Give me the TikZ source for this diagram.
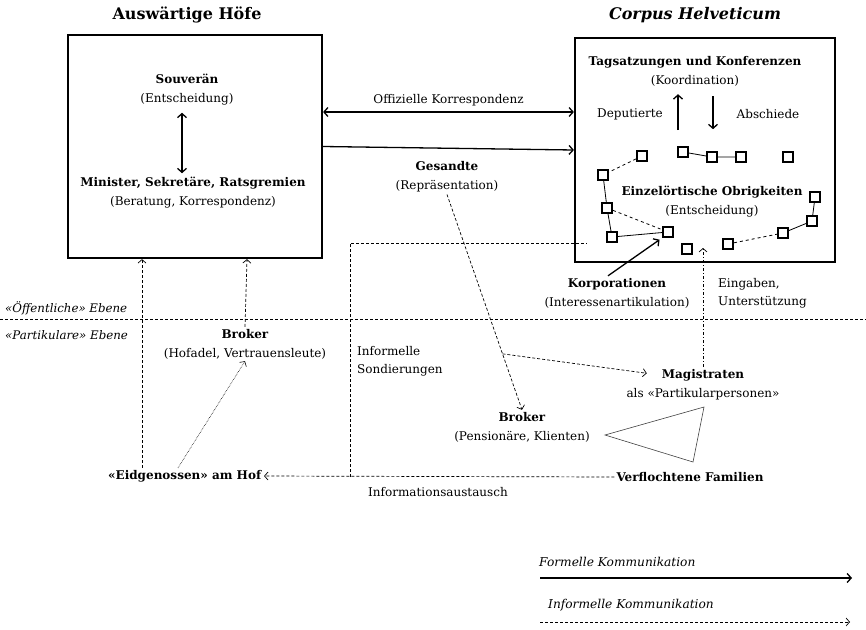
\documentclass[tikz,border=0pt]{standalone}
\usepackage{fontspec}
\setmainfont{DejaVu Serif}
\usetikzlibrary{arrows.meta}
\tikzset{
  court/.style={draw, rectangle, line width=2.2pt, minimum width=254pt, minimum height=223pt},
  courttitle/.style={font=\fontsize{16}{18}\selectfont\bfseries},
  actor/.style={align=center, font=\fontsize{12}{19}\selectfont, inner sep=2pt},
  note/.style={align=left, anchor=west, font=\fontsize{12}{18}\selectfont, inner sep=2pt},
  level/.style={anchor=west, font=\fontsize{11.8}{13}\selectfont\itshape, inner sep=2pt},
  ort/.style={draw, rectangle, line width=2pt, minimum size=10pt, inner sep=0pt},
  link/.style={line width=.8pt},
  barb/.tip={Straight Barb[length=4pt,width=9pt,line width=1.3pt]},
  formal/.style={line width=1.3pt, -barb},
  bothways/.style={line width=1.3pt, barb-barb},
  informal/.style={line width=.7pt, dash pattern=on 3pt off 2pt, -{Straight Barb[length=3.5pt,width=8pt]}},
  infline/.style={line width=.7pt, dash pattern=on 3pt off 2pt}
}
\begin{document}
\begin{tikzpicture}[x=1pt,y=-1pt]
    \useasboundingbox (0,0) rectangle (866,629);
    \node[courttitle] (hoefe-t) at (187,15) {Auswärtige Höfe};
    \node[courttitle, font=\fontsize{16}{18}\selectfont\bfseries\itshape] (corpus-t) at (695,15) {Corpus Helveticum};
    \node[court] (hoefe) at (195,146.5) {};
    \node[court, minimum width=260pt, minimum height=224pt] (corpus) at (705,150) {};

    % Auswaertige Hoefe
    \node[actor] (souv) at (187,90) {\textbf{Souverän}\\(Entscheidung)};
    \node[actor] (minister) at (193,193) {\textbf{Minister, Sekretäre, Ratsgremien}\\(Beratung, Korrespondenz)};
    \draw[bothways, shorten <=5pt, shorten >=2pt] ([xshift=-5pt]souv.south) -- ([xshift=-11pt]minister.north);

    \draw[bothways] ([yshift=34.5pt]hoefe.east) -- ([yshift=38pt]corpus.west) node[actor, midway, above=3pt]{Offizielle Korrespondenz};
    \draw[formal] (hoefe.east) -- (corpus.west);

    % Corpus Helveticum
    \node[actor] (tags) at (695,71) {\textbf{Tagsatzungen und Konferenzen}\\(Koordination)};
    \node[actor] (dep) at (630,114) {Deputierte};
    \node[actor] (absch) at (768,114) {Abschiede};
    \draw[formal] ([xshift=-17pt,yshift=-42pt]tags.south) -- ([xshift=-17pt,yshift=-6pt]tags.south);
    \draw[formal] ([xshift=18pt,yshift=-8pt]tags.south) -- ++(0,33);

    \foreach \n/\x/\y in {o1/642/156, o2/683/152, o3/712/157, o4/741/157, o5/788/157,
      o6/603/175, o7/607/208, o8/612/237, o9/668/232, o10/687/249,
      o11/728/244, o12/783/233, o13/812/221, o14/815/197}
      \node[ort] (\n) at (\x,\y) {};
    \draw[link] (o2) -- (o3) -- (o4);
    \draw[link] (o6) -- (o7) -- (o8) -- (o9);
    \draw[link] (o12) -- (o13) -- (o14);
    \draw[link, dashed] (o1) -- (o6);
    \draw[link, dashed] (o7) -- (o9);
    \draw[link, dashed] (o11) -- (o12);
    \node[actor] (einzel) at (712,202) {\textbf{Einzelörtische Obrigkeiten}\\(Entscheidung)};

    % Ebenen
    \draw[infline] (0,319) -- (866,319);
    \node[level] (oeff) at (3,308) {«Öffentliche» Ebene};
    \node[level] (part) at (3,335) {«Partikulare» Ebene};

    \node[actor] (korp) at (617,293) {\textbf{Korporationen}\\(Interessenartikulation)};
    \draw[formal, shorten >=3pt] ([xshift=-9pt]korp.north) -- (o9.south west);
    \node[note] (eing) at (716,293) {Eingaben,\\Unterstützung};

    % Partikulare Ebene
    \node[actor] (hofadel) at (245,344) {\textbf{Broker}\\(Hofadel, Vertrauensleute)};
    \node[actor] (eidg) at (185,476) {\textbf{«Eidgenossen» am Hof}};
    \draw[informal] ([xshift=-43pt]eidg.north) -- ([xshift=-53pt]hoefe.south);
    \draw[informal] (hofadel.north) -- ([xshift=52pt]hoefe.south);
    \draw[line width=.6pt, densely dotted, -{Straight Barb[length=3.5pt,width=8pt]}] ([xshift=-7pt]eidg.north) -- (hofadel.south);

    \node[actor] (gesandte) at (447,177) {\textbf{Gesandte}\\(Repräsentation)};
    \node[actor] (broker) at (522,427) {\textbf{Broker}\\(Pensionäre, Klienten)};
    \draw[informal] (gesandte.south) -- (broker.north) coordinate[pos=.74] (branch);
    \node[actor] (mag) at (703,375) {\textbf{Magistraten}};
    \node[actor] (magsub) at (703,394) {als «Partikularpersonen»};
    \draw[informal, shorten >=13pt] (branch) -- (mag.west);
    \coordinate (eingziel) at (703,248);
    \draw[informal, dash pattern=on 3pt off 2pt on 1pt off 2pt] (mag.north) -- (eingziel);

    \coordinate (tA) at (605,435);
    \coordinate (tB) at (704,407);
    \coordinate (tC) at (693,462);
    \draw[line width=.6pt, black!75] (tA) -- (tB) -- (tC) -- cycle;

    \node[actor] (verfl) at (690,477) {\textbf{Verflochtene Familien}};
    \draw[informal] (verfl.west) -- (eidg.east);
    \node[actor] (austausch) at (438,492) {Informationsaustausch};
    \coordinate (sondfuss) at (350,477);
    \coordinate (sondkopf) at (587,243);
    \draw[infline] (sondfuss) |- (sondkopf);
    \node[note] (sond) at (355,361) {Informelle\\Sondierungen};

    % Legende
    \node[level, font=\fontsize{12.2}{14}\selectfont\itshape] (formell) at (537,562) {Formelle Kommunikation};
    \coordinate (lf-a) at (540,578);
    \coordinate (lf-b) at (852,578);
    \draw[formal] (lf-a) -- (lf-b);
    \node[level, font=\fontsize{12.2}{14}\selectfont\itshape] (informell) at (546,605) {Informelle Kommunikation};
    \coordinate (li-a) at (540,622);
    \coordinate (li-b) at (850,622);
    \draw[informal] (li-a) -- (li-b);
\end{tikzpicture}
\end{document}
